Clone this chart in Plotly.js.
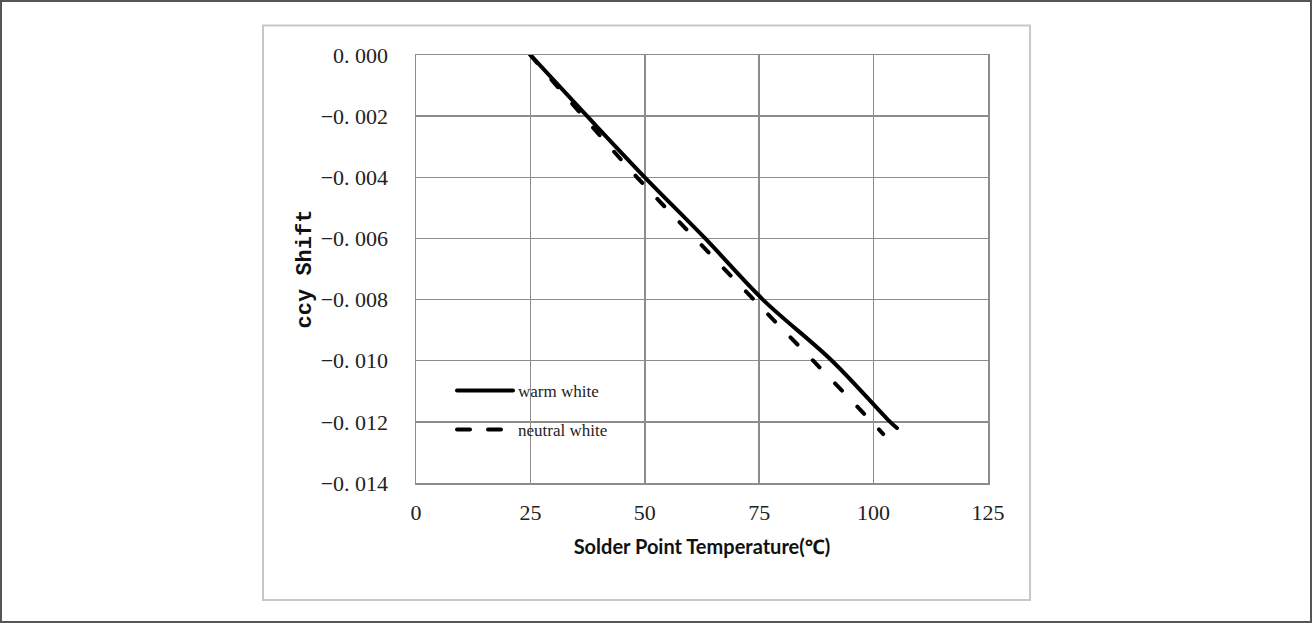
<!DOCTYPE html>
<html>
<head>
<meta charset="utf-8">
<script src="https://cdn.plot.ly/plotly-3.0.1.min.js"></script>
<style>
html,body{margin:0;padding:0;background:#fff;}
#chart{width:1312px;height:623px;}
.scatterlayer .js-line{stroke-linecap:round;}
.legendlines path{stroke-linecap:round;}
</style>
</head>
<body>
<div id="chart"></div>
<script>
// Series data
const tempWarm = [25, 37.4, 50, 63.2, 75.8, 90.9, 103.6, 105.1];
const shiftWarm = [0, -0.002, -0.004, -0.006, -0.008, -0.010, -0.012, -0.0122];
const tempNeutral = [25, 36.5, 48.3, 61, 73.8, 86.8, 99.6, 102.1];
const shiftNeutral = [0, -0.002, -0.004, -0.006, -0.008, -0.010, -0.012, -0.0124];

// Tick labels
const xTickVals = [0, 25, 50, 75, 100, 125];
const xTickText = ["0", "25", "50", "75", "100", "125"];
const yTickVals = [0, -0.002, -0.004, -0.006, -0.008, -0.010, -0.012, -0.014];
const yTickText = ["0. 000", "\u22120. 002", "\u22120. 004", "\u22120. 006", "\u22120. 008", "\u22120. 010", "\u22120. 012", "\u22120. 014"];

const seriesNames = ["warm white", "neutral white"];

const W = 1312, H = 623;
const L = 416, R = 988, T = 55, B = 483;
const px = v => (v - L) / (R - L);
const py = v => (B - v) / (B - T);

const tickFont = {family: "Liberation Serif, serif", size: 22, color: "#222"};
const legendFont = {family: "Liberation Serif, serif", size: 17, color: "#222"};

const traces = [
  {x: tempWarm, y: shiftWarm, name: seriesNames[0], mode: "lines", type: "scatter",
   line: {color: "#000", width: 4, shape: "spline", smoothing: 1}, legend: "legend"},
  {x: tempNeutral, y: shiftNeutral, name: seriesNames[1], mode: "lines", type: "scatter",
   line: {color: "#000", width: 4, dash: "10px,22px", shape: "spline", smoothing: 1}, legend: "legend2"}
];

const layout = {
  width: W, height: H,
  margin: {l: L, r: W - R, t: T, b: H - B, pad: 0},
  paper_bgcolor: "#fff", plot_bgcolor: "#fff",
  showlegend: true,
  xaxis: {
    range: [0, 125], tickvals: xTickVals, ticktext: xTickText,
    showgrid: true, gridcolor: "#8c8c8c", gridwidth: 1.5,
    showline: true, linecolor: "#8c8c8c", linewidth: 1.5, mirror: true,
    zeroline: false, ticks: "", tickfont: tickFont, ticklabelstandoff: 9,
    title: {text: "Solder Point Temperature(\u2103)", font: {family: "Lato, Noto Sans, sans-serif", size: 20, color: "#111", weight: "bold"}, standoff: 16}
  },
  yaxis: {
    range: [-0.014, 0], tickvals: yTickVals, ticktext: yTickText,
    showgrid: true, gridcolor: "#8c8c8c", gridwidth: 1.5,
    showline: true, linecolor: "#8c8c8c", linewidth: 1.5, mirror: true,
    zeroline: false, ticks: "", tickfont: tickFont, ticklabelstandoff: 22,
    title: {text: "ccy Shift", font: {family: "Liberation Mono, monospace", size: 22, color: "#111", weight: "bold"}, standoff: 3}
  },
  legend: {x: px(478), y: py(391), xanchor: "left", yanchor: "middle", font: legendFont, bgcolor: "rgba(0,0,0,0)", borderwidth: 0},
  legend2: {x: px(478), y: py(430), xanchor: "left", yanchor: "middle", font: legendFont, bgcolor: "rgba(0,0,0,0)", borderwidth: 0},
  shapes: [
    {type: "rect", xref: "paper", yref: "paper", x0: px(1), x1: px(1311), y0: py(622), y1: py(1),
     line: {color: "#555", width: 2}, fillcolor: "rgba(0,0,0,0)", layer: "below"},
    {type: "rect", xref: "paper", yref: "paper", x0: px(263), x1: px(1030), y0: py(600), y1: py(25.5),
     line: {color: "#c8c8c8", width: 2}, fillcolor: "rgba(0,0,0,0)", layer: "below"}
  ]
};

function widenLegendKeys(gd) {
  // let legend keys extend left of the legend box (remove scrollbox clipping) and lengthen them
  gd.querySelectorAll(".scrollbox").forEach(function (s) {
    s.removeAttribute("clip-path");
    s.style.clipPath = "none";
  });
  gd.querySelectorAll(".legendlines path").forEach(function (p) {
    p.setAttribute("d", "M-21,0h56");
    if (p.style.strokeDasharray && p.style.strokeDasharray !== "none") {
      p.style.strokeDasharray = "13px, 18px";
    }
  });
}

Plotly.newPlot("chart", traces, layout, {displayModeBar: false, staticPlot: true}).then(function (gd) {
  widenLegendKeys(gd);
  setTimeout(function () { widenLegendKeys(gd); }, 50);
});
</script>
</body>
</html>
